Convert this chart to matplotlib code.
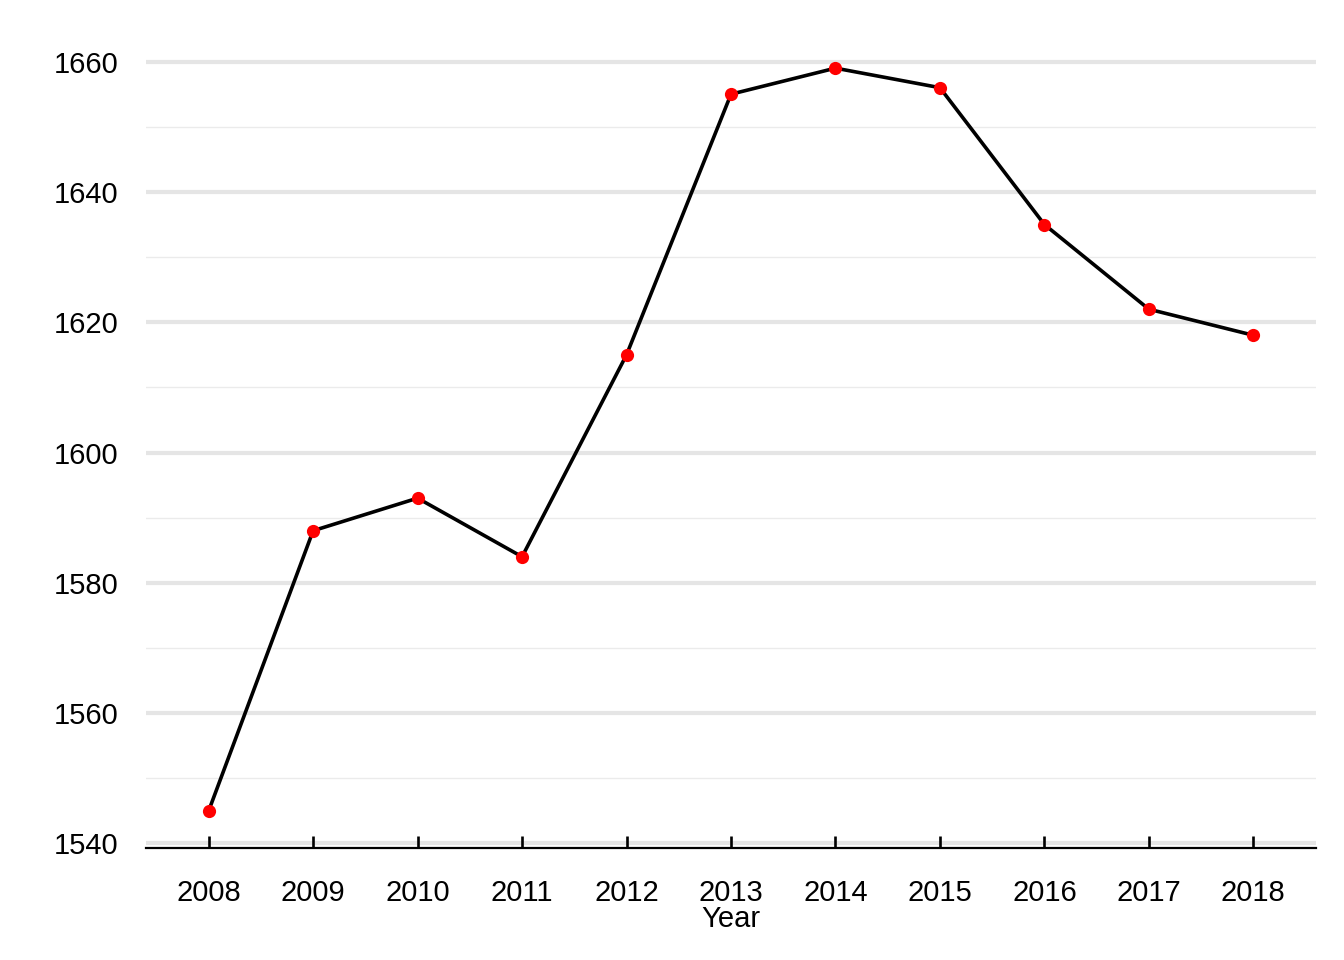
import matplotlib
matplotlib.use("Agg")
import matplotlib.pyplot as plt
import numpy as np

years = [2008, 2009, 2010, 2011, 2012, 2013, 2014, 2015, 2016, 2017, 2018]
values = [1545, 1588, 1593, 1584, 1615, 1655, 1659, 1656, 1635, 1622, 1618]
x_label = "Year"

plt.rcParams['font.family'] = ['Liberation Sans', 'DejaVu Sans']

fig = plt.figure(figsize=(13.44, 9.6), dpi=100)
ax = fig.add_axes([146/1344, 1-848/960, (1316-146)/1344, (848-31)/960])

pos = list(range(len(years)))
ax.plot(pos, values, color='black', lw=2.6, zorder=3)
ax.plot(pos, values, 'o', color='#ff0000', ms=9.5, zorder=4, markeredgewidth=0)

rng = max(values) - min(values)
ymin, ymax = min(values) - 0.05*rng, max(values) + 0.05*rng
ax.set_ylim(ymin, ymax)
ax.set_xlim(-0.6, len(years) - 1 + 0.6)

major = np.arange(1540, 1661, 20)
minor = np.arange(1550, 1661, 20)
ax.set_yticks(major)
for m in major:
    ax.axhline(m, color='#e5e5e5', lw=3, zorder=0.5)
for m in minor:
    ax.axhline(m, color='#ebebeb', lw=1, zorder=0.5)

ax.set_xticks(pos)
ax.set_xticklabels([str(y) for y in years])
ax.tick_params(axis='x', direction='in', length=9, width=1.9, color='black', labelsize=21, pad=22)
ax.tick_params(axis='y', which='both', length=0, labelsize=21, pad=20)
ax.set_xlabel(x_label, fontsize=21, labelpad=-1)

for s in ['top', 'right', 'left']:
    ax.spines[s].set_visible(False)
ax.spines['bottom'].set_linewidth(1.6)
ax.spines['bottom'].set_color('black')
ax.spines['bottom'].set_zorder(2)

fig.savefig("out.png", dpi=100)
